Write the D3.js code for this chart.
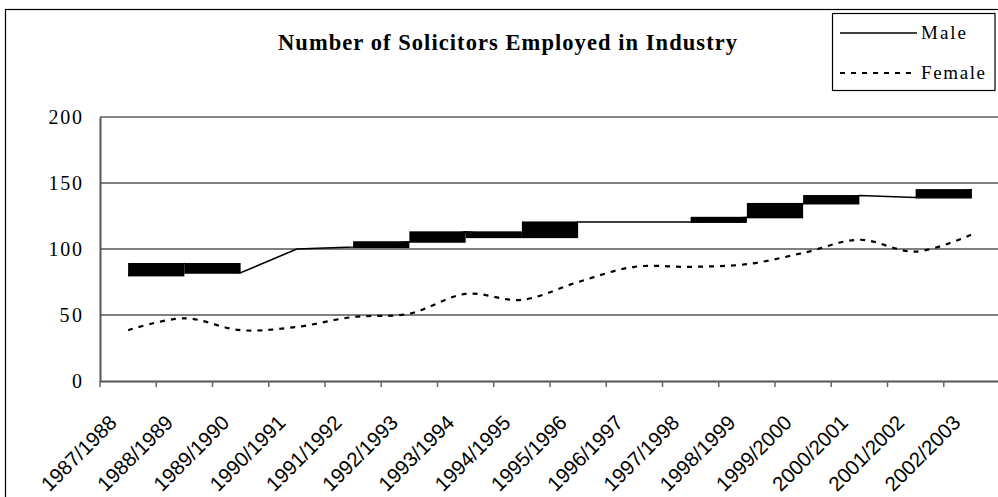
<!DOCTYPE html>
<html>
<head>
<meta charset="utf-8">
<script src="https://cdn.jsdelivr.net/npm/d3@7"></script>
<style>
  html, body { margin: 0; padding: 0; background: #fff; }
  svg { display: block; }
</style>
</head>
<body>
<div id="chart"></div>
<script>
// data
const years = ["1987/1988", "1988/1989", "1989/1990", "1990/1991", "1991/1992",
    "1992/1993", "1993/1994", "1994/1995", "1995/1996", "1996/1997", "1997/1998",
    "1998/1999", "1999/2000", "2000/2001", "2001/2002", "2002/2003"];
const male = [80, 89, 82, 100, 101.5, 105.5, 113, 109, 120.5, 120.5, 120.5, 124, 134.5, 140.5, 139, 145];
const female = [38.5, 47.5, 38.5, 41, 48.5, 51, 66, 61.5, 75, 86.5, 86.5, 88.5, 97, 107, 98, 111];
// male segments (start index) that render as solid blocks in the original
const maleBlocks = [0, 1, 4, 5, 6, 7, 10, 11, 12, 14];
const yTicks = [0, 50, 100, 150, 200];

const serif = "Liberation Serif, Times New Roman, serif";
const sans = "Liberation Sans, Arial, sans-serif";

const width = 998, height = 497;
const svg = d3.select("#chart").append("svg")
    .attr("width", width)
    .attr("height", height);

svg.append("rect")
    .attr("width", width).attr("height", height)
    .attr("fill", "#fff");

// chart area border (cropped on the right and bottom)
svg.append("rect")
    .attr("x", 5.5).attr("y", 9.5)
    .attr("width", 1100).attr("height", 600)
    .attr("fill", "none")
    .attr("stroke", "#000")
    .attr("stroke-width", 1.2);

const x = d3.scaleBand().domain(years).range([100, 1000]).padding(0);
const y = d3.scaleLinear().domain([0, 200]).range([381, 117]);
const cx = (d) => x(d) + x.bandwidth() / 2;

// gridlines
svg.append("g")
    .selectAll("line")
    .data(yTicks.filter((t) => t > 0 && t < 200))
    .join("line")
    .attr("x1", 100).attr("x2", 1000)
    .attr("y1", (d) => y(d)).attr("y2", (d) => y(d))
    .attr("stroke", "#000")
    .attr("stroke-width", 1);

// plot area top border
svg.append("line")
    .attr("x1", 100).attr("x2", 1000)
    .attr("y1", y(200)).attr("y2", y(200))
    .attr("stroke", "#888")
    .attr("stroke-width", 2);

// y axis
const yAxis = svg.append("g")
    .attr("transform", "translate(100,0)")
    .call(d3.axisLeft(y).tickValues(yTicks).tickSize(0).tickPadding(18));
yAxis.select(".domain").attr("stroke", "#555").attr("stroke-width", 2);
yAxis.selectAll("text")
    .attr("font-family", serif)
    .attr("font-size", 20)
    .attr("fill", "#000")
    .attr("textLength", (d) => String(d).length * 11.2)
    .attr("lengthAdjust", "spacing");

// x axis
const xAxis = svg.append("g")
    .attr("transform", `translate(0,${y(0)})`)
    .call(d3.axisBottom(x).tickSize(0).tickFormat(""));
xAxis.select(".domain").attr("stroke", "#555").attr("stroke-width", 2);
xAxis.selectAll(".tick").remove();

svg.append("g")
    .selectAll("line")
    .data(d3.range(years.length + 1))
    .join("line")
    .attr("x1", (i) => 100 + i * x.step())
    .attr("x2", (i) => 100 + i * x.step())
    .attr("y1", y(0)).attr("y2", y(0) + 6)
    .attr("stroke", "#666")
    .attr("stroke-width", 1.5);

svg.append("g")
    .selectAll("text")
    .data(years)
    .join("text")
    .attr("transform", (d) => `translate(${cx(d) - 10},${y(0) + 43}) rotate(-45)`)
    .attr("text-anchor", "end")
    .attr("font-family", sans)
    .attr("font-size", 20.5)
    .attr("fill", "#000")
    .text((d) => d);

// female (smoothed, dashed)
svg.append("path")
    .datum(female)
    .attr("fill", "none")
    .attr("stroke", "#000")
    .attr("stroke-width", 2.2)
    .attr("stroke-dasharray", "5,6")
    .attr("d", d3.line()
        .x((d, i) => cx(years[i]))
        .y((d) => y(d))
        .curve(d3.curveCardinal.tension(0)));

// male line
svg.append("path")
    .datum(male)
    .attr("fill", "none")
    .attr("stroke", "#000")
    .attr("stroke-width", 1.6)
    .attr("d", d3.line()
        .x((d, i) => cx(years[i]))
        .y((d) => y(d)));

// male blocks
svg.append("g")
    .selectAll("rect")
    .data(maleBlocks)
    .join("rect")
    .attr("x", (i) => cx(years[i]))
    .attr("width", x.step())
    .attr("y", (i) => y(Math.max(male[i], male[i + 1])) - 0.5)
    .attr("height", (i) => Math.abs(y(male[i]) - y(male[i + 1])) + 1.5)
    .attr("fill", "#000");

// title
svg.append("text")
    .attr("x", 507.5).attr("y", 50)
    .attr("text-anchor", "middle")
    .attr("font-family", serif)
    .attr("font-weight", "bold")
    .attr("font-size", 22.5)
    .attr("textLength", 459)
    .attr("lengthAdjust", "spacing")
    .text("Number of Solicitors Employed in Industry");

// legend
const legend = svg.append("g");
legend.append("rect")
    .attr("x", 832.5).attr("y", 13.5)
    .attr("width", 162.5).attr("height", 77)
    .attr("fill", "#fff")
    .attr("stroke", "#000")
    .attr("stroke-width", 1.2);

const legendItems = [
    { name: "Male", dash: null, w: 1.6, len: 45 },
    { name: "Female", dash: "5,6", w: 2.2, len: 64 }
];
legendItems.forEach((item, i) => {
    const ly = 33 + i * 40;
    legend.append("line")
        .attr("x1", 840).attr("x2", 917)
        .attr("y1", ly).attr("y2", ly)
        .attr("stroke", "#000")
        .attr("stroke-width", item.w)
        .attr("stroke-dasharray", item.dash);
    legend.append("text")
        .attr("x", 921).attr("y", ly + 5.5)
        .attr("font-family", serif)
        .attr("font-size", 19)
        .attr("textLength", item.len)
        .attr("lengthAdjust", "spacing")
        .text(item.name);
});
</script>
</body>
</html>
